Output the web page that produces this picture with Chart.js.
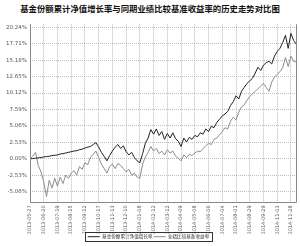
<!DOCTYPE html>
<html>
<head>
<meta charset="utf-8">
<script src="https://cdn.jsdelivr.net/npm/chart.js@4.4.1/dist/chart.umd.min.js"></script>
<style>
  html, body { margin: 0; padding: 0; background: #fff; }
  #title {
    height: 18px; line-height: 16px; text-align: center;
    font-family: "Noto Sans CJK SC"; font-weight: bold; font-size: 8.4px; color: #111;
    white-space: nowrap;
  }
  #wrap { width: 300px; height: 228px; }
</style>
</head>
<body>
<div id="title"></div>
<div id="wrap"><canvas id="trend"></canvas></div>
<script>
// Chart text
let titleText = "基金份额累计净值增长率与同期业绩比较基准收益率的历史走势对比图";
let fundName = "基金份额累计净值增长率";
let benchName = "业绩比较基准收益率";

// Tick labels on the x axis (one every 5 points)
let tickLabels = [
    "2013-05-27", "2013-06-20", "2013-07-19", "2013-08-15", "2013-09-12",
    "2013-10-17", "2013-11-13", "2013-12-10", "2014-01-08", "2014-02-12",
    "2014-03-12", "2014-04-09", "2014-05-08", "2014-06-06", "2014-07-04",
    "2014-08-01", "2014-08-29", "2014-09-29", "2014-11-03", "2014-11-28"
];
let pointsPerTick = 5;

// Y axis tick values (%)
let yTicks = [-5.06, -2.53, 0, 2.53, 5.06, 7.59, 10.12, 12.65, 15.18, 17.71, 20.24];

// Fund cumulative NAV growth (%)
let fundValues = [
    0, 0.05, 0.1, 0.15, 0.2, 0.3, 0.35, 0.4, 0.5, 0.55,
    0.6, 0.75, 0.8, 0.9, 1.0, 1.1, 1.2, 1.25, 1.4, 1.5,
    1.65, 1.8, 1.9, 2.2, 2.5, 1.8, 1.0, 0.4, -0.3, 0.5,
    1.2, 1.8, 2.2, 1.6, 2.0, 1.1, 0.6, 1.0, 0.2, -0.3,
    -0.6, 0.8, 2.4, 3.2, 4.5, 3.8, 4.6, 3.6, 4.2, 3.0,
    3.9, 3.2, 4.0, 3.1, 2.7, 1.9, 3.2, 2.6, 3.3, 3.0,
    3.6, 3.4, 4.0, 3.8, 4.6, 4.2, 5.0, 4.8, 5.6, 6.1,
    6.6, 6.9, 7.3, 8.2, 8.8, 9.7, 9.2, 10.4, 11.0, 11.6,
    12.0, 12.4, 13.2, 14.1, 13.6, 14.4, 14.8, 15.0, 14.6, 15.8,
    16.5, 17.0, 17.9, 19.0, 17.0, 19.3, 18.2, 17.6
];

// Benchmark return (%)
let benchValues = [
    0, 0.4, 1.0, -1.0, -2.0, -3.5, -5.8, -3.3, -4.5, -3.0,
    -4.2, -2.8, -3.8, -2.5, -3.0, -2.2, -1.8, -2.5, -1.2, -1.6,
    -0.6, -0.9, 0.2, 0.7, 1.2, 0.2, -0.8, -1.5, -2.2, -1.2,
    -0.8, -1.5, -0.7, -1.0, -1.5, -2.0, -1.6, -2.5, -2.2, -2.8,
    -3.0, -0.8, 0.3, 1.0, 1.9, 1.2, 1.6, 0.8, 1.2, 0.6,
    1.4, 0.9, 1.2, 0.4, 0.1, -0.3, 0.6, 0.2, 0.7, 0.5,
    0.9, 1.2, 1.1, 1.6, 2.0, 2.4, 2.2, 3.0, 3.2, 3.7,
    4.2, 4.8, 4.6, 5.8, 6.4, 6.0, 7.2, 8.0, 8.3, 9.0,
    9.6, 10.0, 10.4, 10.8, 11.2, 11.6, 11.0, 10.4, 11.8, 12.6,
    13.0, 13.4, 14.0, 15.6, 14.2, 15.8, 15.0, 14.9
];

document.getElementById("title").textContent = titleText;

// Build category labels: tick label every few points, blank otherwise
let labels = fundValues.map((_, i) =>
    i % pointsPerTick === 0 && tickLabels[i / pointsPerTick] ? tickLabels[i / pointsPerTick] : ""
);

// Draws the solid axis lines, the right border and the box around the legend
const framePlugin = {
    id: "frame",
    afterDraw(chart) {
        const ctx = chart.ctx;
        const a = chart.chartArea;
        ctx.save();
        ctx.strokeStyle = "#888";
        ctx.lineWidth = 1;
        ctx.beginPath();
        ctx.moveTo(Math.round(a.left) + 0.5, a.top);
        ctx.lineTo(Math.round(a.left) + 0.5, a.bottom);
        ctx.moveTo(a.left, Math.round(a.bottom) + 0.5);
        ctx.lineTo(a.right, Math.round(a.bottom) + 0.5);
        ctx.moveTo(Math.round(a.right) + 0.5, a.top);
        ctx.lineTo(Math.round(a.right) + 0.5, a.bottom);
        ctx.stroke();

        const lg = chart.legend;
        if (lg && lg.legendHitBoxes.length) {
            let boxes = lg.legendHitBoxes;
            let x1 = boxes[0].left - 3;
            let last = boxes[boxes.length - 1];
            let x2 = last.left + last.width + 3;
            let y1 = boxes[0].top - 2;
            let y2 = boxes[0].top + boxes[0].height + 2;
            ctx.strokeStyle = "#333";
            ctx.strokeRect(Math.round(x1) + 0.5, Math.round(y1) + 0.5, Math.round(x2 - x1), Math.round(y2 - y1));
        }
        ctx.restore();
    }
};

let ctx = document.getElementById("trend").getContext("2d");
new Chart(ctx, {
    type: "line",
    data: {
        labels: labels,
        datasets: [
            {
                label: fundName,
                data: fundValues,
                borderColor: "#222",
                backgroundColor: "#222",
                borderWidth: 1,
                pointRadius: 0,
                tension: 0,
            },
            {
                label: benchName,
                data: benchValues,
                borderColor: "#8c8c8c",
                backgroundColor: "#8c8c8c",
                borderWidth: 1,
                pointRadius: 0,
                tension: 0,
            },
        ],
    },
    options: {
        responsive: true,
        maintainAspectRatio: false,
        animation: false,
        devicePixelRatio: 1,
        layout: { padding: { left: 0, right: 3, top: 1, bottom: -3 } },
        plugins: {
            title: { display: false },
            legend: {
                position: "bottom",
                labels: {
                    usePointStyle: true,
                    pointStyle: "line",
                    pointStyleWidth: 12,
                    boxHeight: 4,
                    padding: 1,
                    color: "#333",
                    font: { family: "'Noto Sans CJK SC'", size: 4.6 },
                },
            },
            tooltip: { enabled: false },
        },
        scales: {
            x: {
                offset: false,
                border: { display: false, dash: [1, 1] },
                grid: {
                    color: "#bbb",
                    drawTicks: false,
                },
                ticks: {
                    autoSkip: false,
                    minRotation: 90,
                    maxRotation: 90,
                    padding: 3,
                    color: "#555",
                    font: { family: "'DejaVu Sans'", size: 5 },
                    callback: function (val) {
                        let l = this.getLabelForValue(val);
                        return l === "" ? null : l;
                    },
                },
                afterFit: (scale) => { scale.height = 31; },
            },
            y: {
                min: -6.7,
                max: 20.7,
                border: { display: false, dash: [1, 1] },
                grid: { color: "#bbb", drawTicks: false },
                afterBuildTicks: (scale) => { scale.ticks = yTicks.map(v => ({ value: v })); },
                ticks: {
                    padding: 3,
                    color: "#555",
                    font: { family: "'DejaVu Sans'", size: 5.5 },
                    callback: (v) => v.toFixed(2) + "%",
                },
                afterFit: (scale) => { scale.width = 30; },
            },
        },
    },
    plugins: [framePlugin],
});
</script>
</body>
</html>
